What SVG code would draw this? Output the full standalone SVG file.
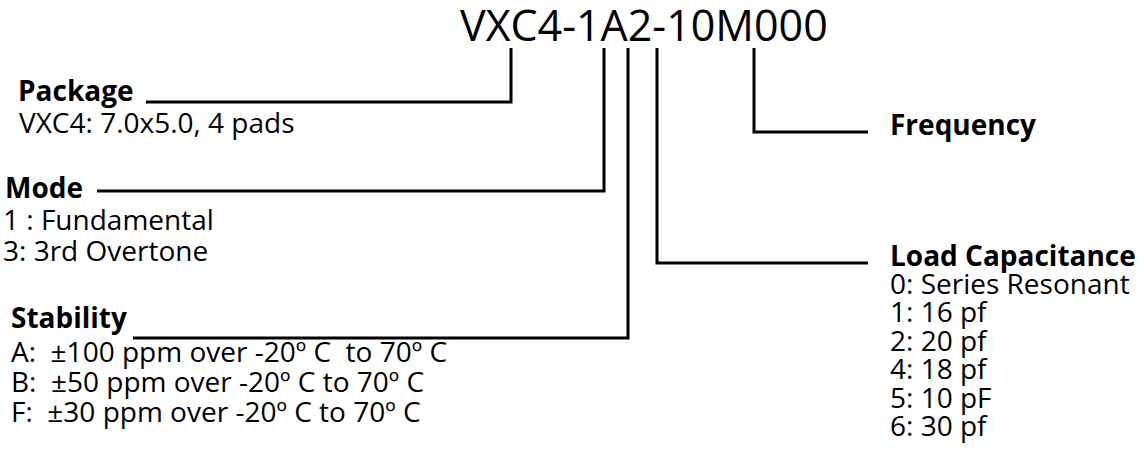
<svg xmlns="http://www.w3.org/2000/svg" width="1144" height="464" viewBox="0 0 1144 464">
<style>
text{font-family:"Open Sans","Noto Sans","Liberation Sans",sans-serif;fill:#000;white-space:pre}
.t{font-size:43px}
.b{font-size:28px;font-weight:bold}
.r{font-size:28px}
.c{fill:none;stroke:#000;stroke-width:3}
</style>
<rect width="1144" height="464" fill="#fff"/>
<g id="title"><text class="t" x="460" y="41">VXC4-1A2-10M000</text></g>
<g id="connectors">
<path class="c" d="M511 48V102H146"/>
<path class="c" d="M604 48V191H97"/>
<path class="c" d="M628 48V338H133"/>
<path class="c" d="M657 48V263H868"/>
<path class="c" d="M754 48V132H868"/>
</g>
<g id="package">
<text class="b" x="18" y="101">Package</text>
<text class="r" x="19" y="133">VXC4: 7.0x5.0, 4 pads</text>
</g>
<g id="mode">
<text class="b" x="5" y="198">Mode</text>
<text class="r" x="3" y="230">1 : Fundamental</text>
<text class="r" x="3" y="261">3: 3rd Overtone</text>
</g>
<g id="stability">
<text class="b" x="11" y="328">Stability</text>
<text class="r" x="11" y="362">A:  ±100 ppm over -20º C  to 70º C</text>
<text class="r" x="11" y="392">B:  ±50 ppm over -20º C to 70º C</text>
<text class="r" x="11" y="422">F:  ±30 ppm over -20º C to 70º C</text>
</g>
<g id="frequency">
<text class="b" x="890" y="135">Frequency</text>
</g>
<g id="load">
<text class="b" x="890" y="266">Load Capacitance</text>
<text class="r" x="890" y="294">0: Series Resonant</text>
<text class="r" x="890" y="322">1: 16 pf</text>
<text class="r" x="890" y="351">2: 20 pf</text>
<text class="r" x="890" y="379">4: 18 pf</text>
<text class="r" x="890" y="408">5: 10 pF</text>
<text class="r" x="890" y="436">6: 30 pf</text>
</g>
</svg>
